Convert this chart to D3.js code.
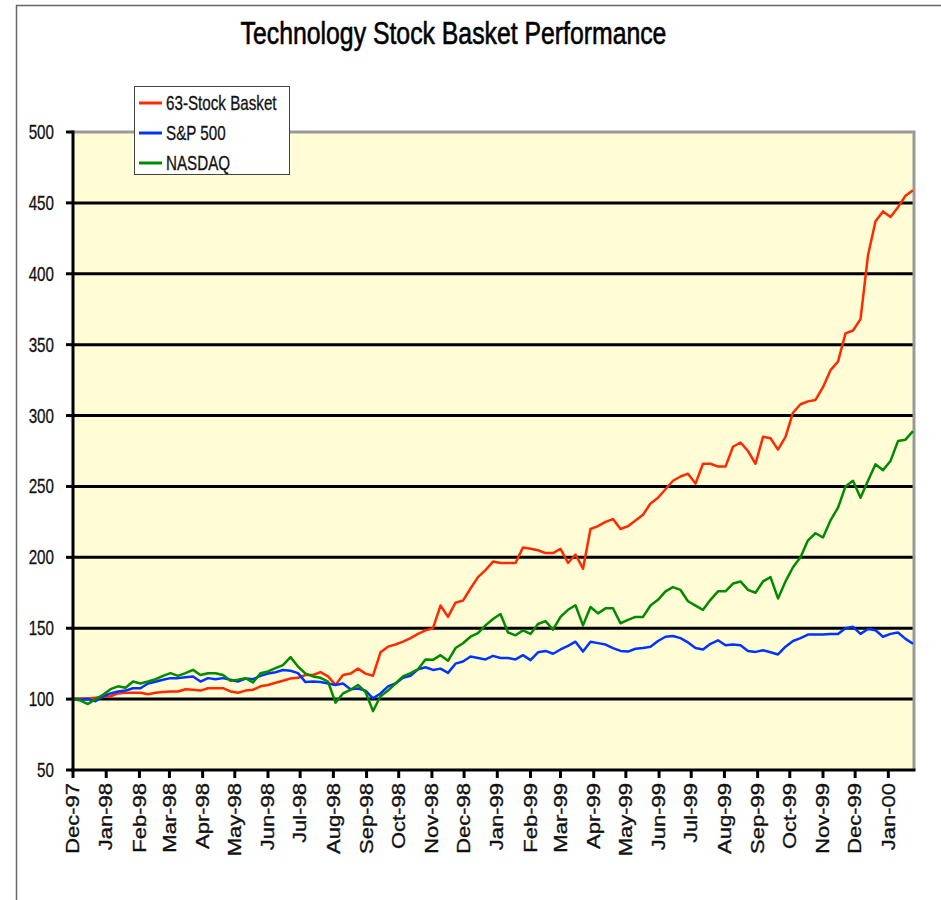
<!DOCTYPE html>
<html>
    <head>
        <script src="https://d3js.org/d3.v7.min.js"></script>
        <style>
            body { margin: 0; background: white; }
            svg { font-family: 'Liberation Sans', Arial, sans-serif; }
        </style>
    </head>
    <body>
        <script>
            // weekly closes, all indexed to 100 at the start
            let weeks = [
                "1997-12-01","1997-12-08","1997-12-15","1997-12-22","1997-12-29",
                "1998-01-05","1998-01-12","1998-01-19","1998-01-26",
                "1998-02-02","1998-02-09","1998-02-16","1998-02-23",
                "1998-03-02","1998-03-09","1998-03-16","1998-03-23","1998-03-30",
                "1998-04-06","1998-04-13","1998-04-20","1998-04-27",
                "1998-05-04","1998-05-11","1998-05-18","1998-05-25",
                "1998-06-01","1998-06-08","1998-06-15","1998-06-22","1998-06-29",
                "1998-07-06","1998-07-13","1998-07-20","1998-07-27",
                "1998-08-03","1998-08-10","1998-08-17","1998-08-24","1998-08-31",
                "1998-09-07","1998-09-14","1998-09-21","1998-09-28",
                "1998-10-05","1998-10-12","1998-10-19","1998-10-26",
                "1998-11-02","1998-11-09","1998-11-16","1998-11-23","1998-11-30",
                "1998-12-07","1998-12-14","1998-12-21","1998-12-28",
                "1999-01-04","1999-01-11","1999-01-18","1999-01-25",
                "1999-02-01","1999-02-08","1999-02-15","1999-02-22",
                "1999-03-01","1999-03-08","1999-03-15","1999-03-22","1999-03-29",
                "1999-04-05","1999-04-12","1999-04-19","1999-04-26",
                "1999-05-03","1999-05-10","1999-05-17","1999-05-24","1999-05-31",
                "1999-06-07","1999-06-14","1999-06-21","1999-06-28",
                "1999-07-05","1999-07-12","1999-07-19","1999-07-26",
                "1999-08-02","1999-08-09","1999-08-16","1999-08-23","1999-08-30",
                "1999-09-06","1999-09-13","1999-09-20","1999-09-27",
                "1999-10-04","1999-10-11","1999-10-18","1999-10-25",
                "1999-11-01","1999-11-08","1999-11-15","1999-11-22","1999-11-29",
                "1999-12-06","1999-12-13","1999-12-20","1999-12-27",
                "2000-01-03","2000-01-10","2000-01-17","2000-01-24"
            ];

            let basket = [
                100, 100, 100.5, 101, 101.5, 102, 104, 104.5, 104.5, 104.5,
                103.5, 104.5, 105, 105.4, 105.4, 107, 106.6, 106, 107.7, 107.7,
                107.7, 105.4, 104.5, 106, 106.6, 109, 110, 111.5, 113, 114.5,
                115, 117, 117, 119, 116, 110, 117, 118, 121.5, 118,
                116.5, 133, 137, 138.5, 140.5, 143, 146, 148.5, 150, 166,
                158, 168, 169.5, 178, 186, 191, 197, 196, 196, 196,
                207, 206, 205, 203, 203, 206, 196, 202, 192, 220,
                222, 225, 227, 220, 222, 226, 230, 238, 242, 248,
                254, 257, 259, 252, 266, 266, 264, 264, 278, 281,
                275, 266, 285, 284, 276, 285, 302, 308, 310, 311,
                320, 332, 338, 358, 360, 368, 413, 437, 444, 440,
                447, 455, 459
            ];

            let sp500 = [
                100, 99.5, 100, 98.5, 102, 104, 105.4, 106, 107.7, 107.7,
                111, 112.2, 113.6, 114.8, 114.8, 115.5, 116, 112.4, 114.8, 114,
                114.8, 113.6, 112.4, 114.5, 114, 116.4, 118, 119, 120.5, 120,
                118.3, 112, 112.5, 112, 111, 110, 111, 107, 107.5, 106,
                100.5, 104, 109, 111, 115, 116.5, 121, 122.5, 120.6, 121.5,
                118.5, 125, 126.5, 130, 129, 128, 130.5, 129, 129, 128,
                131, 127.5, 133, 134, 132, 135, 137.5, 140.5, 133.5, 140.5,
                139.5, 138.5, 136, 134, 133.5, 135.5, 136, 137, 141, 144,
                144.5, 143, 140, 136, 135, 139, 141.5, 138, 138.5, 138,
                134, 133.3, 134.5, 133, 131.5, 137, 141, 143, 145.5, 145.5,
                145.5, 146, 146, 150, 151, 146, 149.5, 148.6, 144, 146,
                147, 142.5, 139
            ];

            let nasdaq = [
                100, 99, 96.5, 100, 103, 107, 109, 108, 112.4, 111,
                112.4, 114, 116.4, 118.3, 116.4, 118.3, 120.6, 117, 118.3, 118.3,
                117, 113, 113.6, 114.8, 111.7, 118.3, 119.5, 121.8, 124, 129.6,
                123, 118, 116, 115, 112.4, 97.5, 104, 106.6, 110, 105,
                91.5, 102, 106, 111, 116, 118.3, 121, 128, 127.7, 131,
                127, 136, 139.4, 144, 146.5, 152, 156.5, 160, 147, 145,
                148.5, 146, 153, 155, 149, 158, 163, 166.2, 152, 165,
                160.5, 164, 164, 153.5, 155.9, 158, 158, 166, 170, 176,
                179, 177, 169, 166, 163, 170, 176, 176, 181.5, 183,
                177, 175, 183, 186, 171, 183, 193, 200, 212, 217,
                214, 226, 235, 250, 254, 242, 254, 265.6, 261.5, 268,
                282, 283, 289
            ];

            let seriesNames = ["63-Stock Basket", "S&P 500", "NASDAQ"];
            let seriesColors = ["#ff2a00", "#0033ff", "#008a00"];

            let monthLabels = [
                "Dec-97", "Jan-98", "Feb-98", "Mar-98", "Apr-98", "May-98", "Jun-98",
                "Jul-98", "Aug-98", "Sep-98", "Oct-98", "Nov-98", "Dec-98",
                "Jan-99", "Feb-99", "Mar-99", "Apr-99", "May-99", "Jun-99",
                "Jul-99", "Aug-99", "Sep-99", "Oct-99", "Nov-99", "Dec-99", "Jan-00"
            ];
            let yTicks = [50, 100, 150, 200, 250, 300, 350, 400, 450, 500];

            let width = 941, height = 900;
            let plotLeft = 73, plotRight = 913, plotTop = 132, plotBottom = 770;
            let squash = 0.76; // the original text is narrow, so squeeze it sideways

            let parseDay = d3.timeParse("%Y-%m-%d");
            let parseMonth = d3.timeParse("%b-%y");
            let dates = weeks.map(parseDay);

            let x = d3.scaleTime()
                .domain([dates[0], dates[dates.length - 1]])
                .range([plotLeft, plotRight]);
            let y = d3.scaleLinear()
                .domain([50, 500])
                .range([plotBottom, plotTop]);

            let svg = d3.select("body")
                .append("svg")
                .attr("width", width)
                .attr("height", height);

            // outer frame
            svg.append("path")
                .attr("d", `M16.5,${height} V5.5 H${width}`)
                .attr("fill", "none")
                .attr("stroke", "#666")
                .attr("stroke-width", 1.5);

            // title
            svg.append("text")
                .text("Technology Stock Basket Performance")
                .attr("transform", `translate(453.5,44) scale(0.8,1)`)
                .attr("text-anchor", "middle")
                .style("font-size", "31px")
                .style("fill", "#000")
                .style("stroke", "#000")
                .style("stroke-width", 0.6);

            // plot area
            svg.append("rect")
                .attr("x", plotLeft)
                .attr("y", plotTop)
                .attr("width", plotRight - plotLeft)
                .attr("height", plotBottom - plotTop)
                .attr("fill", "#fffcd6");

            // grid lines
            svg.append("g")
                .selectAll("line")
                .data(yTicks.filter((t) => t > 50 && t < 500))
                .enter()
                .append("line")
                .attr("x1", plotLeft)
                .attr("x2", plotRight)
                .attr("y1", (d) => y(d))
                .attr("y2", (d) => y(d))
                .attr("stroke", "#000")
                .attr("stroke-width", 3);

            // gray border on top and right
            svg.append("path")
                .attr("d", `M${plotLeft},${y(500)} H${plotRight + 1} V${plotBottom}`)
                .attr("fill", "none")
                .attr("stroke", "#999")
                .attr("stroke-width", 3);

            // series
            let line = d3.line()
                .x((d, i) => x(dates[i]))
                .y((d) => y(d));

            [basket, sp500, nasdaq].forEach((values, k) => {
                svg.append("path")
                    .datum(values)
                    .attr("d", line)
                    .attr("fill", "none")
                    .attr("stroke", seriesColors[k])
                    .attr("stroke-width", 2.5)
                    .attr("stroke-linejoin", "round");
            });

            // y axis
            let yAxis = svg.append("g");
            yAxis.append("line")
                .attr("x1", plotLeft).attr("x2", plotLeft)
                .attr("y1", plotTop - 1.5).attr("y2", plotBottom + 1.5)
                .attr("stroke", "#000").attr("stroke-width", 3);
            let yt = yAxis.selectAll("g")
                .data(yTicks)
                .enter()
                .append("g");
            yt.append("line")
                .attr("x1", plotLeft - 7).attr("x2", plotLeft)
                .attr("y1", (d) => y(d)).attr("y2", (d) => y(d))
                .attr("stroke", "#000").attr("stroke-width", 3);
            yt.append("text")
                .text((d) => d)
                .attr("transform", (d) => `translate(54,${y(d)}) scale(${squash},1)`)
                .attr("text-anchor", "end")
                .attr("dy", "0.35em")
                .style("font-size", "20px")
                .style("fill", "#111")
                .style("stroke", "#111")
                .style("stroke-width", 0.3);

            // x axis
            let xAxis = svg.append("g");
            xAxis.append("line")
                .attr("x1", plotLeft - 1.5).attr("x2", plotRight + 2.5)
                .attr("y1", plotBottom).attr("y2", plotBottom)
                .attr("stroke", "#000").attr("stroke-width", 3);
            let xt = xAxis.selectAll("g")
                .data(monthLabels)
                .enter()
                .append("g");
            xt.append("line")
                .attr("x1", (d) => x(parseMonth(d))).attr("x2", (d) => x(parseMonth(d)))
                .attr("y1", plotBottom).attr("y2", plotBottom + 8)
                .attr("stroke", "#000").attr("stroke-width", 3);
            xt.append("text")
                .text((d) => d)
                .attr("transform", (d) => `translate(${x(parseMonth(d))},783) rotate(-90) scale(1,0.8)`)
                .attr("text-anchor", "end")
                .attr("dy", "0.35em")
                .style("font-size", "22px")
                .style("fill", "#111")
                .style("stroke", "#111")
                .style("stroke-width", 0.4);

            // legend
            let legend = svg.append("g");
            legend.append("rect")
                .attr("x", 134.5).attr("y", 86.5)
                .attr("width", 155).attr("height", 88)
                .attr("fill", "#fff")
                .attr("stroke", "#444")
                .attr("stroke-width", 1);
            let items = legend.selectAll("g")
                .data(seriesNames)
                .enter()
                .append("g")
                .attr("transform", (d, i) => `translate(0,${103 + i * 30})`);
            items.append("line")
                .attr("x1", 139).attr("x2", 162)
                .attr("stroke", (d, i) => seriesColors[i])
                .attr("stroke-width", 3);
            items.append("text")
                .text((d) => d)
                .attr("transform", `translate(166,0) scale(${squash},1)`)
                .attr("dy", "0.35em")
                .style("font-size", "20px")
                .style("fill", "#111")
                .style("stroke", "#111")
                .style("stroke-width", 0.3);
        </script>
    </body>
</html>
